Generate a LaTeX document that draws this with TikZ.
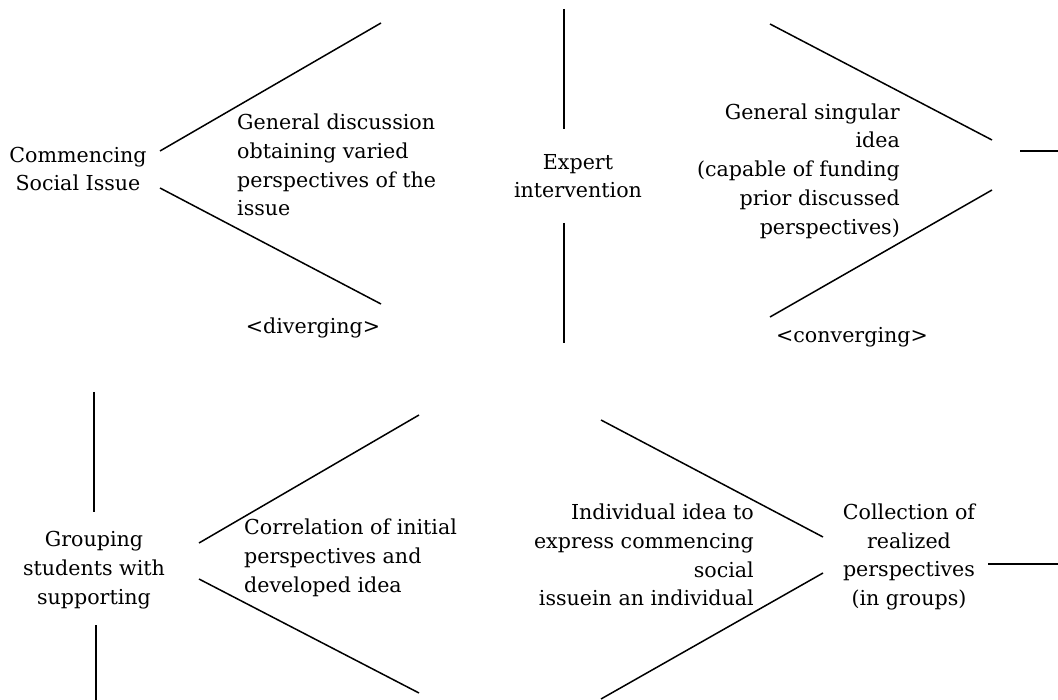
\documentclass[tikz,border=0pt]{standalone}
\usepackage{fontspec}
\setmainfont{DejaVu Serif}
\begin{document}
\begin{tikzpicture}[x=1pt,y=-1pt,
  ln/.style={line width=1.5pt,black},
  txt/.style={font=\fontsize{20.6}{28.7}\selectfont, inner sep=0pt, text=black}]
\useasboundingbox (0,0) rectangle (1058,700);
% text nodes
\node[txt,align=center] (csi) at (78,169) {Commencing\\Social Issue};
\node[txt,align=left,anchor=west] (gd) at (237,165) {General discussion\\obtaining varied\\perspectives of the\\issue};
\node[txt] (div) at (313,328) {<diverging>};
\node[txt,align=center] (exp) at (578,176) {Expert\\intervention};
\node[txt,align=right,anchor=east] (gsi) at (900,171) {General singular\\idea\\(capable of funding\\prior discussed\\perspectives)};
\node[txt] (conv) at (852,337) {<converging>};
\node[txt,align=center] (grp) at (94,570) {Grouping\\students with\\supporting};
\node[txt,align=left,anchor=west] (cor) at (244,558) {Correlation of initial\\perspectives and\\developed idea};
\node[txt,align=right,anchor=east] (ind) at (754,555) {Individual idea to\\express commencing\\social\\issuein an individual};
\node[txt,align=center] (col) at (909,557) {Collection of\\realized\\perspectives\\(in groups)};
% line end points
\coordinate (d1a) at (160,151); \coordinate (d1b) at (381,23);
\coordinate (d2a) at (160,188); \coordinate (d2b) at (381,304);
\coordinate (v1a) at (564,9);   \coordinate (v1b) at (564,129);
\coordinate (v2a) at (564,223); \coordinate (v2b) at (564,343);
\coordinate (c1a) at (770,24);  \coordinate (c1b) at (992,140);
\coordinate (c2a) at (992,190); \coordinate (c2b) at (770,317);
\coordinate (h1a) at (1020,151); \coordinate (h1b) at (1058,151);
\coordinate (v3a) at (94,392);  \coordinate (v3b) at (94,512);
\coordinate (v4a) at (96,625);  \coordinate (v4b) at (96,700);
\coordinate (e1a) at (199,543); \coordinate (e1b) at (419,415);
\coordinate (e2a) at (199,579); \coordinate (e2b) at (419,693);
\coordinate (f1a) at (601,420); \coordinate (f1b) at (823,537);
\coordinate (f2a) at (823,573); \coordinate (f2b) at (601,699);
\coordinate (h2a) at (988,564); \coordinate (h2b) at (1058,564);
\foreach \a/\b in {d1a/d1b,d2a/d2b,v1a/v1b,v2a/v2b,c1a/c1b,c2a/c2b,h1a/h1b,v3a/v3b,v4a/v4b,e1a/e1b,e2a/e2b,f1a/f1b,f2a/f2b,h2a/h2b}
  \draw[ln] (\a) -- (\b);
\end{tikzpicture}
\end{document}
